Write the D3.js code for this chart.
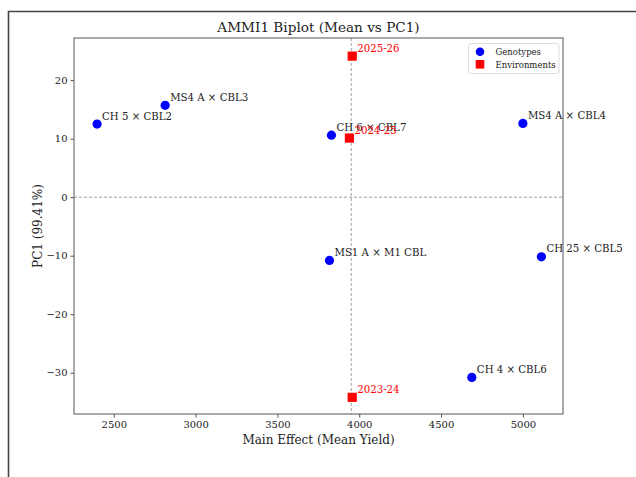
<!DOCTYPE html>
<html>
<head>
<meta charset="utf-8">
<script src="https://cdn.jsdelivr.net/npm/d3@7"></script>
<style>
  body { margin: 0; background: #fff; }
  svg { display: block; font-family: "DejaVu Serif", serif; }
</style>
</head>
<body>
<div id="chart"></div>
<script>
// Genotype scores (mean yield, PC1)
const genotypes = ['CH 5 × CBL2', 'MS4 A × CBL3', 'CH 6 × CBL7', 'MS4 A × CBL4', 'MS1 A × M1 CBL', 'CH 25 × CBL5', 'CH 4 × CBL6'];
const genoMean = [2398, 2814, 3830, 5000, 3818, 5113, 4688];
const genoPC1 = [12.5, 15.7, 10.6, 12.6, -10.8, -10.2, -30.8];

// Environment scores
const environments = ['2025-26', '2024-25', '2023-24'];
const envMean = [3957, 3940, 3957];
const envPC1 = [24.1, 10.1, -34.2];

const grandMean = 3951;
const xTicks = [2500, 3000, 3500, 4000, 4500, 5000];
const yTicks = [20, 10, 0, -10, -20, -30];

const W = 636, H = 477;
const margin = { top: 38, right: 73, bottom: 63, left: 74 };
const width = W - margin.left - margin.right;
const height = H - margin.top - margin.bottom;

const svg = d3.select('#chart').append('svg')
    .attr('width', W)
    .attr('height', H);

// outer figure frame (cut off at right and bottom)
svg.append('path')
    .attr('d', `M8.5,${H} V11.5 H${W}`)
    .attr('fill', 'none')
    .attr('stroke', '#444')
    .attr('stroke-width', 1.6);

const g = svg.append('g')
    .attr('transform', `translate(${margin.left},${margin.top})`);

const x = d3.scaleLinear().domain([2257, 5245]).range([0, width]);
const y = d3.scaleLinear().domain([-37.05, 27.2]).range([height, 0]);

// reference lines
g.append('line')
    .attr('x1', 0).attr('x2', width)
    .attr('y1', y(0)).attr('y2', y(0))
    .attr('stroke', '#888').attr('stroke-width', 0.8)
    .attr('stroke-dasharray', '3,2');
g.append('line')
    .attr('x1', x(grandMean)).attr('x2', x(grandMean))
    .attr('y1', 0).attr('y2', height)
    .attr('stroke', '#888').attr('stroke-width', 0.8)
    .attr('stroke-dasharray', '3,2');

// axes
const xAxis = g.append('g')
    .attr('transform', `translate(0,${height})`)
    .call(d3.axisBottom(x).tickValues(xTicks).tickSize(3.5).tickPadding(3).tickFormat(d3.format('d')));
const yAxis = g.append('g')
    .call(d3.axisLeft(y).tickValues(yTicks).tickSize(3.5).tickPadding(3)
        .tickFormat(d => d < 0 ? '\u2212' + Math.abs(d) : d));
[xAxis, yAxis].forEach(a => {
    a.selectAll('text').attr('font-family', '"DejaVu Serif", serif').attr('font-size', 10).attr('fill', '#222');
    a.selectAll('line').attr('stroke', '#555');
    a.select('.domain').remove();
});

// plot frame
g.append('rect')
    .attr('width', width).attr('height', height)
    .attr('fill', 'none').attr('stroke', '#555').attr('stroke-width', 1);

// genotypes
genotypes.forEach((name, i) => {
    g.append('circle')
        .attr('cx', x(genoMean[i])).attr('cy', y(genoPC1[i]))
        .attr('r', 4.6).attr('fill', '#0000ff');
});
// environments
environments.forEach((name, i) => {
    g.append('rect')
        .attr('x', x(envMean[i]) - 4.6).attr('y', y(envPC1[i]) - 4.6)
        .attr('width', 9.2).attr('height', 9.2)
        .attr('fill', '#ff0000');
});

// labels
genotypes.forEach((name, i) => {
    g.append('text')
        .attr('x', x(genoMean[i]) + 5).attr('y', y(genoPC1[i]) - 4.5)
        .attr('font-size', 10.2).attr('fill', '#222')
        .text(name);
});
environments.forEach((name, i) => {
    g.append('text')
        .attr('x', x(envMean[i]) + 5).attr('y', y(envPC1[i]) - 4.5)
        .attr('font-size', 10.2).attr('fill', '#ff0000')
        .text(name);
});

// title and axis labels
svg.append('text')
    .attr('x', margin.left + width / 2).attr('y', 32)
    .attr('text-anchor', 'middle').attr('font-size', 13.6).attr('fill', '#222')
    .text('AMMI1 Biplot (Mean vs PC1)');
svg.append('text')
    .attr('x', margin.left + width / 2).attr('y', 444)
    .attr('text-anchor', 'middle').attr('font-size', 12).attr('fill', '#222')
    .text('Main Effect (Mean Yield)');
svg.append('text')
    .attr('transform', `translate(42,${margin.top + height / 2}) rotate(-90)`)
    .attr('text-anchor', 'middle').attr('font-size', 12).attr('fill', '#222')
    .text('PC1 (99.41%)');

// legend
const legend = svg.append('g').attr('transform', 'translate(468.5,43.5)');
legend.append('rect')
    .attr('width', 90.5).attr('height', 30).attr('rx', 2)
    .attr('fill', '#fff').attr('fill-opacity', 0.8)
    .attr('stroke', '#ddd');
legend.append('circle').attr('cx', 11.5).attr('cy', 8.2).attr('r', 4.3).attr('fill', '#0000ff');
legend.append('rect').attr('x', 7.2).attr('y', 16.5).attr('width', 8.6).attr('height', 8.6).attr('fill', '#ff0000');
legend.append('text').attr('x', 27).attr('y', 11).attr('font-size', 8.5).attr('fill', '#222').text('Genotypes');
legend.append('text').attr('x', 27).attr('y', 24).attr('font-size', 8.5).attr('fill', '#222').text('Environments');
</script>
</body>
</html>
